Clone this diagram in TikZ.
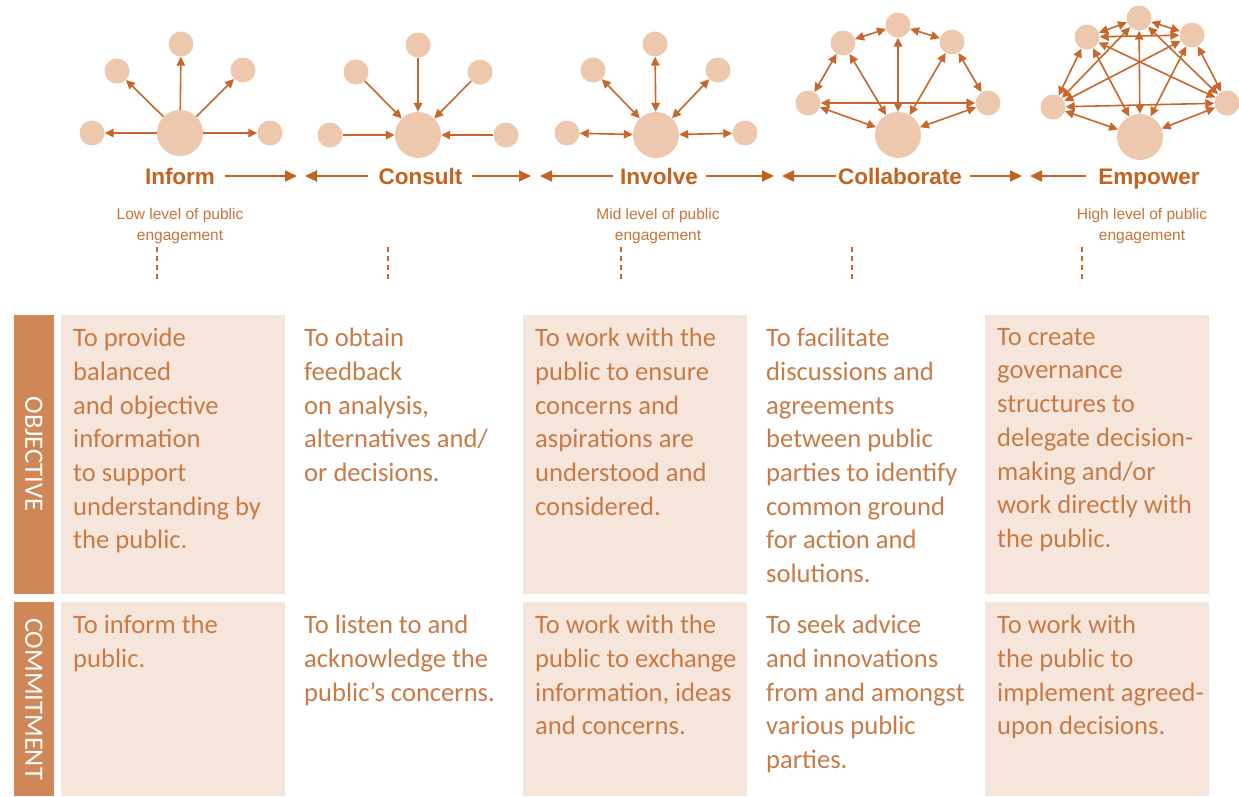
\documentclass[tikz,border=0pt]{standalone}
\usepackage{fontspec}
\setmainfont{Carlito}
\newfontfamily\arialf{Liberation Sans}
\usetikzlibrary{arrows.meta}
\definecolor{hdr}{HTML}{C4621F}
\definecolor{arr}{HTML}{C8672B}
\definecolor{dot}{HTML}{EDC8AC}
\definecolor{cellbg}{HTML}{F6E5DA}
\definecolor{side}{HTML}{D08757}
\definecolor{bodytxt}{HTML}{C87A47}
\definecolor{smalltxt}{HTML}{C8733A}
\tikzset{
  big/.style={circle, fill=dot, minimum size=46pt, inner sep=0pt},
  small/.style={circle, fill=dot, minimum size=25pt, inner sep=0pt},
  link/.style={draw=arr, line width=1.6pt, -{Triangle[length=9pt,width=8.5pt]}},
  both/.style={draw=arr, line width=1.6pt, {Triangle[length=9pt,width=8.5pt]}-{Triangle[length=9pt,width=8.5pt]}},
  flow/.style={draw=hdr, line width=2pt, -{Triangle[length=12pt,width=11pt]}},
  title/.style={font=\arialf\bfseries\fontsize{22.5}{24}\selectfont, text=hdr, inner sep=0pt, anchor=base},
  note/.style={font=\arialf\fontsize{15.5}{21}\selectfont, text=smalltxt, align=center, inner sep=0pt, anchor=north},
  cell/.style={fill=cellbg},
  sidebar/.style={fill=side},
  txt/.style={anchor=north west, align=left, text=bodytxt, font=\fontsize{26.6}{33.7}\selectfont, inner sep=0pt},
  sidelabel/.style={rotate=-90, text=white, font=\fontsize{26.5}{26}\selectfont, inner sep=0pt},
  dashline/.style={draw=arr, dash pattern=on 5pt off 4pt, line width=1.2pt}
}
\begin{document}
\begin{tikzpicture}[x=1pt,y=-1pt]
\useasboundingbox[fill=white] (0,0) rectangle (1239,796);

% ---------- table backgrounds ----------
\fill[sidebar] (14,315) rectangle (54,594);
\fill[sidebar] (14,602) rectangle (54,796);
\foreach \x in {61,523,985}{
  \fill[cell] (\x,315) rectangle (\x+224,594);
  \fill[cell] (\x,602) rectangle (\x+224,796);
}
\node[sidelabel] (objlab) at (34,454) {OBJECTIVE};
\node[sidelabel] (comlab) at (34,699) {COMMITMENT};

% ---------- Inform icon ----------
\node[big] (i0) at (180,133) {};
\node[small] (i1) at (181,44) {};
\node[small] (i2) at (117,71) {};
\node[small] (i3) at (243,70) {};
\node[small] (i4) at (92,133) {};
\node[small] (i5) at (270,133) {};
\foreach \n in {i1,i2,i3,i4,i5} \draw[link] (i0) -- (\n);

% ---------- Consult icon ----------
\node[big] (c0) at (418,135) {};
\node[small] (c1) at (418,45) {};
\node[small] (c2) at (356,72) {};
\node[small] (c3) at (480,72) {};
\node[small] (c4) at (330,135) {};
\node[small] (c5) at (506,135) {};
\foreach \n in {c1,c2,c3,c4,c5} \draw[link] (\n) -- (c0);

% ---------- Involve icon ----------
\node[big] (v0) at (656,135) {};
\node[small] (v1) at (655,44) {};
\node[small] (v2) at (593,70) {};
\node[small] (v3) at (718,70) {};
\node[small] (v4) at (567,133) {};
\node[small] (v5) at (745,133) {};
\foreach \n in {v1,v2,v3,v4,v5} \draw[both] (v0) -- (\n);

% ---------- Collaborate icon ----------
\node[big] (k0) at (898,135) {};
\node[small] (k1) at (898,25) {};
\node[small] (k2) at (843,43) {};
\node[small] (k3) at (952,42) {};
\node[small] (k4) at (808,103) {};
\node[small] (k5) at (988,103) {};
\foreach \a/\b in {k4/k2,k2/k1,k1/k3,k3/k5,k4/k5,k4/k0,k5/k0,k2/k0,k1/k0,k3/k0}
  \draw[both] (\a) -- (\b);

% ---------- Empower icon ----------
\node[big] (e0) at (1140,137) {};
\node[small] (e1) at (1139,18) {};
\node[small] (e2) at (1087,37) {};
\node[small] (e3) at (1192,35) {};
\node[small] (e4) at (1053,107) {};
\node[small] (e5) at (1227,103) {};
\foreach \a/\b in {e0/e1,e0/e2,e0/e3,e0/e4,e0/e5,e1/e2,e1/e3,e1/e4,e1/e5,e2/e3,e2/e4,e2/e5,e3/e4,e3/e5,e4/e5}
  \draw[both] (\a) -- (\b);

% ---------- titles ----------
\node[title] (tInform) at (180,184) {Inform};
\node[title] (tConsult) at (420.5,184) {Consult};
\node[title] (tInvolve) at (659,184) {Involve};
\node[title] (tCollab) at (900,184) {Collaborate};
\node[title] (tEmpower) at (1149,184) {Empower};

\coordinate (f1s) at (225,176); \coordinate (f1e) at (297,176);
\coordinate (f2s) at (368,176); \coordinate (f2e) at (305,176);
\coordinate (f3s) at (472,176); \coordinate (f3e) at (531,176);
\coordinate (f4s) at (613,176); \coordinate (f4e) at (540,176);
\coordinate (f5s) at (706,176); \coordinate (f5e) at (774,176);
\coordinate (f6s) at (836,176); \coordinate (f6e) at (782,176);
\coordinate (f7s) at (970,176); \coordinate (f7e) at (1022,176);
\coordinate (f8s) at (1086,176); \coordinate (f8e) at (1030,176);
\foreach \k in {1,...,8} \draw[flow] (f\k s) -- (f\k e);

% ---------- level notes ----------
\node[note] (nLow) at (180,208) {Low level of public\\engagement};
\node[note] (nMid) at (658,208) {Mid level of public\\engagement};
\node[note] (nHigh) at (1142,208) {High level of public\\engagement};

\foreach \x [count=\k] in {157,388,621,852,1082}{
  \coordinate (d\k a) at (\x,247);
  \coordinate (d\k b) at (\x,282);
  \draw[dashline] (d\k a) -- (d\k b);
}

% ---------- objective texts ----------
\node[txt] (o1) at (73,328) {To provide\\balanced\\and objective\\information\\to support\\understanding by\\the public.};
\node[txt] (o2) at (304,328) {To obtain\\feedback\\on analysis,\\alternatives and/\\or decisions.};
\node[txt] (o3) at (535,328) {To work with the\\public to ensure\\concerns and\\aspirations are\\understood and\\considered.};
\node[txt] (o4) at (766,328) {To facilitate\\discussions and\\agreements\\between public\\parties to identify\\common ground\\for action and\\solutions.};
\node[txt] (o5) at (997,328) {To create\\governance\\structures to\\delegate decision-\\making and/or\\work directly with\\the public.};

% ---------- commitment texts ----------
\node[txt] (m1) at (73,615) {To inform the\\public.};
\node[txt] (m2) at (304,615) {To listen to and\\acknowledge the\\public’s concerns.};
\node[txt] (m3) at (535,615) {To work with the\\public to exchange\\information, ideas\\and concerns.};
\node[txt] (m4) at (766,615) {To seek advice\\and innovations\\from and amongst\\various public\\parties.};
\node[txt] (m5) at (997,615) {To work with\\the public to\\implement agreed-\\upon decisions.};
\end{tikzpicture}
\end{document}
